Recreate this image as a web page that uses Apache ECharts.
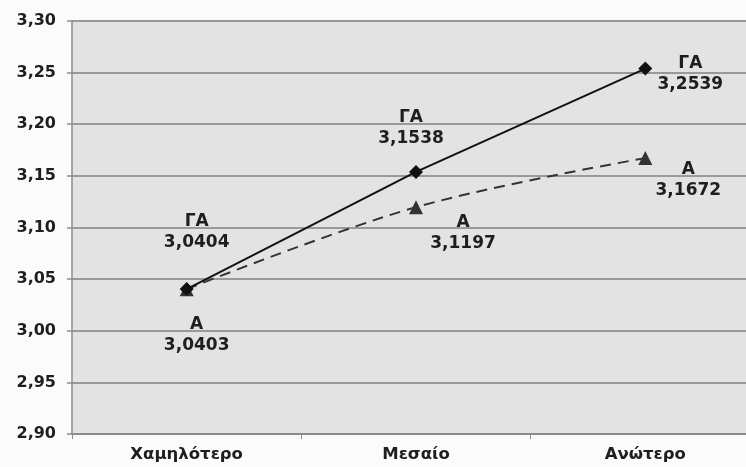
<!DOCTYPE html>
<html>
<head>
<meta charset="utf-8">
<script src="https://cdn.jsdelivr.net/npm/echarts@6/dist/echarts.min.js"></script>
<style>
  html, body { margin: 0; padding: 0; background: #fbfbfb; overflow: hidden; }
  #chart { width: 760px; height: 467px; }
</style>
</head>
<body>
<div id="chart"></div>
<script>
// Education level categories and the two mean-score series
const categories = ['Χαμηλότερο', 'Μεσαίο', 'Ανώτερο'];
const seriesNames = ['ΓΑ', 'Α'];
const valuesGA = [3.0404, 3.1538, 3.2539];
const valuesA = [3.0403, 3.1197, 3.1672];
const yTicks = { min: 2.90, max: 3.30, step: 0.05 };

// Label block offsets (px from each marker centre)
const offsetsGA = [[10, -57], [-5, -44], [45, 5]];
const offsetsA = [[10, 46], [47, 26], [43, 22]];

const fmt = v => v.toFixed(4).replace('.', ',');
const FONT = '"DejaVu Sans", Verdana, sans-serif';

function pointData(values, name, offsets) {
  return values.map((v, i) => ({
    value: v,
    label: {
      show: true,
      position: 'inside',
      offset: offsets[i],
      formatter: name + '\n' + fmt(v)
    }
  }));
}

const labelStyle = {
  color: '#1e1e1e',
  fontFamily: FONT,
  fontWeight: 'bold',
  fontSize: 17,
  lineHeight: 21,
  align: 'center',
  verticalAlign: 'middle'
};

const chart = echarts.init(document.getElementById('chart'), null, { renderer: 'canvas' });
chart.setOption({
  backgroundColor: '#fbfbfb',
  animation: false,
  grid: {
    left: 72, right: 0, top: 21, bottom: 33,
    show: true, backgroundColor: '#e3e3e3', borderWidth: 0
  },
  xAxis: {
    type: 'category',
    data: categories,
    boundaryGap: true,
    axisLine: { show: true, lineStyle: { color: '#8c8c8c', width: 2 } },
    axisTick: { show: true, length: 5, lineStyle: { color: '#8c8c8c', width: 1 } },
    axisLabel: {
      color: '#1e1e1e', fontFamily: FONT, fontWeight: 'bold', fontSize: 16.5, margin: 12
    },
    splitLine: { show: false }
  },
  yAxis: {
    type: 'value',
    min: yTicks.min, max: yTicks.max, interval: yTicks.step,
    axisLine: { show: true, lineStyle: { color: '#8c8c8c', width: 1.5 } },
    axisTick: { show: true, length: 5, lineStyle: { color: '#8c8c8c', width: 1.5 } },
    axisLabel: {
      color: '#1e1e1e', fontFamily: FONT, fontWeight: 'bold', fontSize: 16, margin: 16,
      formatter: v => v.toFixed(2).replace('.', ',')
    },
    splitLine: { show: true, lineStyle: { color: '#999999', width: 2 } }
  },
  series: [
    {
      name: seriesNames[1],
      type: 'line',
      data: pointData(valuesA, seriesNames[1], offsetsA),
      smooth: 0.35,
      symbol: 'triangle',
      symbolSize: 14,
      itemStyle: { color: '#333333' },
      lineStyle: { color: '#333333', width: 2, type: [11, 7] },
      label: labelStyle,
      z: 3
    },
    {
      name: seriesNames[0],
      type: 'line',
      data: pointData(valuesGA, seriesNames[0], offsetsGA),
      symbol: 'diamond',
      symbolSize: 14,
      itemStyle: { color: '#111111' },
      lineStyle: { color: '#111111', width: 2 },
      label: labelStyle,
      z: 4
    }
  ]
});
</script>
</body>
</html>
